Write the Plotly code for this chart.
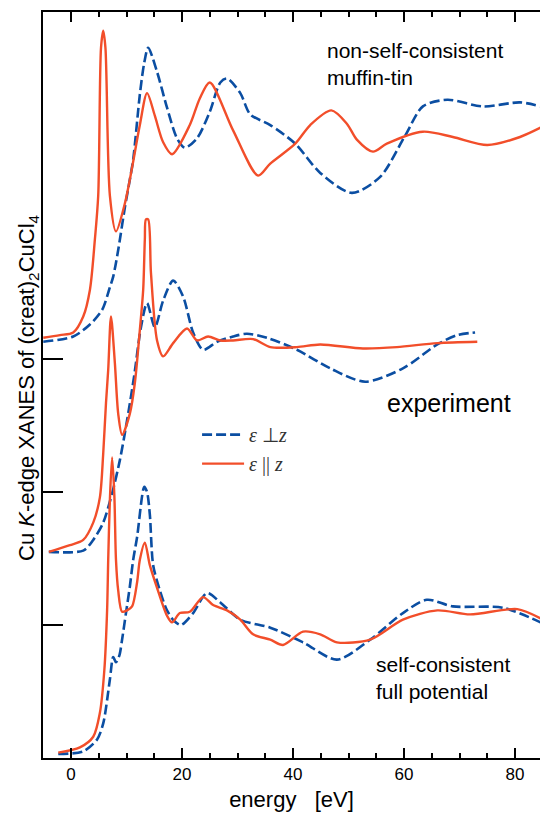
import plotly.graph_objects as go

# ---------------- data (energy in eV, intensity in offset units) ----------------
# non-self-consistent muffin-tin (top)
ns_perp_E = [-5.0, 0.4, 3.4, 5.6, 7.0, 7.6, 8.5, 9.7, 10.6, 11.2, 12.4, 13.2, 13.9, 15.5, 17.3, 19.1,
             20.5, 22.7, 25.0, 26.9, 28.1, 30.5, 32.3, 35.9, 40.4, 44.9, 50.6, 55.7, 60.2, 63.4, 67.8,
             74.2, 80.9, 84.6]
ns_perp_I = [3.13, 3.17, 3.26, 3.37, 3.54, 3.62, 3.82, 4.14, 4.35, 4.50, 4.99, 5.23, 5.34, 5.16, 4.89, 4.66,
             4.59, 4.66, 4.86, 5.08, 5.11, 5.00, 4.84, 4.76, 4.62, 4.40, 4.25, 4.37, 4.68, 4.90, 4.95,
             4.90, 4.93, 4.90]
ns_par_E = [-5.0, -2.0, 0.4, 2.2, 3.4, 4.3, 4.9, 5.4, 5.8, 6.2, 7.0, 8.1, 9.7, 11.0, 12.4, 13.7, 15.1,
            16.6, 18.2, 21.4, 23.2, 25.0, 29.2, 33.7, 35.9, 40.4, 43.1, 46.9, 49.7, 51.5, 54.4, 56.9,
            63.4, 68.8, 75.0, 80.9, 84.6]
ns_par_I = [3.16, 3.18, 3.20, 3.32, 3.52, 3.90, 4.23, 5.34, 5.47, 5.34, 4.23, 3.96, 4.17, 4.44, 4.76, 5.00, 4.83,
            4.63, 4.54, 4.76, 4.96, 5.08, 4.72, 4.38, 4.47, 4.62, 4.76, 4.87, 4.77, 4.65, 4.56, 4.62,
            4.71, 4.67, 4.61, 4.67, 4.74]

# experiment (middle)
exp_perp_E = [-4.0, 2.2, 4.0, 5.8, 7.4, 8.8, 10.1, 11.4, 12.6, 13.7, 15.1, 16.6, 18.4, 20.2, 22.0, 23.8,
              26.3, 29.2, 31.7, 35.3, 40.7, 46.7, 53.0, 59.8, 66.0, 69.6, 72.8]
exp_perp_I = [1.55, 1.56, 1.64, 1.77, 1.99, 2.24, 2.54, 2.88, 3.24, 3.42, 3.24, 3.44, 3.59, 3.47, 3.20, 3.07,
              3.13, 3.17, 3.19, 3.16, 3.07, 2.93, 2.83, 2.93, 3.11, 3.18, 3.20]
exp_par_E = [-4.0, -0.2, 2.2, 4.0, 5.2, 5.8, 6.3, 6.7, 7.2, 7.9, 8.5, 9.2, 10.6, 11.5, 12.4, 13.0, 13.3,
             13.5, 13.9, 14.4, 15.5, 16.6, 18.4, 20.9, 22.7, 24.7, 26.9, 29.2, 32.8, 35.9, 40.7, 44.9,
             52.6, 58.7, 66.0, 73.2]
exp_par_I = [1.55, 1.60, 1.64, 1.77, 1.96, 2.29, 2.67, 2.92, 3.32, 2.97, 2.59, 2.43, 2.59, 2.82, 3.22, 3.52, 3.90,
             4.05, 4.05, 3.65, 3.14, 3.02, 3.12, 3.23, 3.14, 3.17, 3.14, 3.14, 3.15, 3.09, 3.09, 3.11,
             3.08, 3.09, 3.12, 3.13]

# self-consistent full potential (bottom)
sc_perp_E = [-2.3, 2.2, 4.7, 5.8, 7.0, 7.6, 8.1, 8.7, 9.2, 9.9, 10.6, 11.2, 11.9, 13.2, 13.7, 14.2, 14.8,
             16.0, 17.3, 18.6, 19.8, 22.0, 24.5, 26.9, 30.5, 35.9, 41.8, 47.9, 53.9, 59.8, 64.1, 68.8,
             77.8, 84.6]
sc_perp_I = [0.03, 0.05, 0.14, 0.26, 0.59, 0.76, 0.72, 0.77, 0.89, 1.09, 1.29, 1.49, 1.66, 2.04, 2.00, 1.83, 1.45,
             1.26, 1.11, 1.03, 1.00, 1.09, 1.24, 1.17, 1.04, 0.98, 0.87, 0.74, 0.89, 1.09, 1.19, 1.14,
             1.13, 1.02]
sc_par_E = [-2.3, 1.6, 4.0, 5.2, 6.0, 6.5, 6.7, 7.0, 7.4, 7.8, 8.1, 8.5, 9.2, 10.1, 11.0, 11.9, 12.4, 13.3,
            14.2, 15.5, 17.3, 18.2, 19.6, 21.4, 23.8, 25.6, 28.1, 30.5, 32.8, 35.9, 38.2, 41.8, 44.9,
            47.9, 53.9, 59.8, 66.0, 71.9, 80.4, 84.6]
sc_par_I = [0.04, 0.08, 0.16, 0.34, 0.66, 1.11, 1.49, 1.94, 2.26, 1.98, 1.49, 1.26, 1.10, 1.11, 1.14, 1.32, 1.49, 1.62,
            1.45, 1.28, 1.07, 1.02, 1.09, 1.10, 1.21, 1.15, 1.11, 1.04, 0.93, 0.89, 0.85, 0.95, 0.93,
            0.87, 0.89, 1.04, 1.11, 1.08, 1.12, 1.05]

x_tickvals = [0, 20, 40, 60, 80]
y_tickvals = [1, 2, 3]
legend_perp = "<i>ε</i> ⊥<i>z</i>"
legend_par = "<i>ε</i> || <i>z</i>"

BLUE = "#0B4EA2"
RED = "#F24E2A"
SANS = "Liberation Sans, Arial, sans-serif"
SERIF = "Liberation Serif, Times New Roman, serif"

fig = go.Figure()

groups = [
    (ns_perp_E, ns_perp_I, ns_par_E, ns_par_I, True),
    (exp_perp_E, exp_perp_I, exp_par_E, exp_par_I, False),
    (sc_perp_E, sc_perp_I, sc_par_E, sc_par_I, False),
]
for pe, pi, ae, ai, show in groups:
    fig.add_trace(go.Scatter(x=pe, y=pi, mode="lines", name=legend_perp, showlegend=show,
                             legendgroup="perp",
                             line=dict(color=BLUE, width=2.6, dash="10px,4px", shape="spline", smoothing=0.8)))
for pe, pi, ae, ai, show in groups:
    fig.add_trace(go.Scatter(x=ae, y=ai, mode="lines", name=legend_par, showlegend=show,
                             legendgroup="par",
                             line=dict(color=RED, width=2.4, shape="spline", smoothing=0.8)))

fig.update_layout(
    width=540, height=815,
    margin=dict(l=43, r=0, t=12, b=57),
    paper_bgcolor="white", plot_bgcolor="white",
    font=dict(family=SANS, color="black"),
    showlegend=True,
    legend=dict(x=0.31, y=0.414, xanchor="left", yanchor="middle", bgcolor="rgba(0,0,0,0)",
                font=dict(family=SERIF, size=20, color="#333"), tracegroupgap=0,
                itemwidth=42),
    xaxis=dict(range=[-5.05, 84.5], showline=True, linecolor="black", linewidth=2,
               mirror="allticks", ticks="inside", ticklen=10, tickwidth=1.5, tickcolor="black",
               tickvals=x_tickvals, tickfont=dict(size=17, family=SANS),
               minor=dict(dtick=5, ticks="inside", ticklen=5, tickwidth=1.5, tickcolor="black"),
               showgrid=False, zeroline=False,
               title=dict(text="energy\u00a0\u00a0\u00a0[eV]", font=dict(size=22, family=SANS), standoff=8)),
    yaxis=dict(range=[0, 5.61], showline=True, linecolor="black", linewidth=2,
               ticks="inside", ticklen=20, tickwidth=1.5, tickcolor="black",
               tickvals=y_tickvals, showticklabels=False, showgrid=False, zeroline=False),
)

fig.add_annotation(text="Cu <i>K</i>-edge XANES of (creat)<sub>2</sub>CuCl<sub>4</sub>",
                   xref="paper", yref="paper", x=0, y=0.496, xshift=-15, xanchor="center",
                   yanchor="middle", textangle=-90, showarrow=False,
                   font=dict(size=22, family=SANS, color="black"))
fig.add_annotation(text="non-self-consistent<br>muffin-tin", x=45.8, y=5.22, xanchor="left",
                   yanchor="middle", align="left", showarrow=False,
                   font=dict(size=21, family=SANS, color="black"))
fig.add_annotation(text="experiment", x=56.6, y=2.67, xanchor="left", yanchor="middle",
                   showarrow=False, font=dict(size=25, family=SANS, color="black"))
fig.add_annotation(text="self-consistent<br>full potential", x=54.6, y=0.605, xanchor="left",
                   yanchor="middle", align="left", showarrow=False,
                   font=dict(size=21, family=SANS, color="black"))

fig.write_html("out.html", config={"displayModeBar": False},
               post_script="document.body.style.margin='0';")
